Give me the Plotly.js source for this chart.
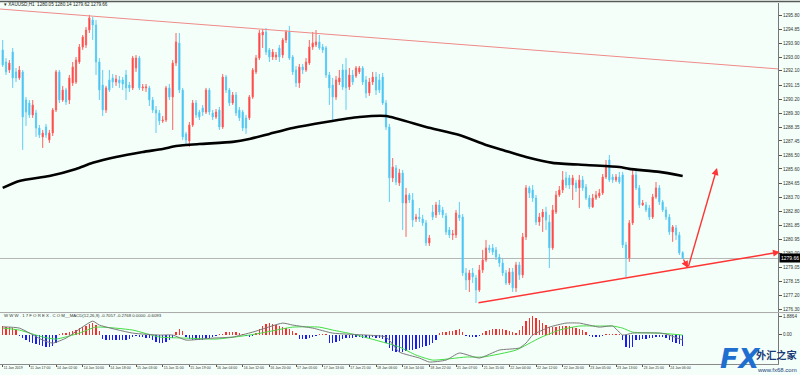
<!DOCTYPE html>
<html><head><meta charset="utf-8">
<script src="https://cdn.plot.ly/plotly-3.0.1.min.js"></script>
<style>html,body{margin:0;padding:0;background:#f3fff8;}#chart{width:800px;height:375px;}</style>
</head><body><div id="chart"></div>
<script>
// XAUUSD H1 candles (price)
const openP=[
1293.49,1292.69,1292.16,1293.35,1292.03,1291.63,1292.03,1290.17,1289.97,1289.18,
1289.31,1288.31,1287.72,1288.38,1287.52,1287.98,1289.51,1292.03,1290.17,1290.83,
1290.17,1291.30,1291.36,1292.69,1293.68,1293.82,1294.81,1295.47,1295.14,1292.69,
1291.16,1289.51,1291.50,1291.63,1291.36,1291.50,1291.50,1291.83,1291.16,1290.97,
1292.29,1292.95,1290.97,1290.97,1290.97,1290.17,1289.51,1289.31,1288.78,1288.84,
1290.97,1290.37,1292.62,1293.95,1290.83,1287.92,1287.45,1288.51,1289.97,1289.37,
1289.64,1289.37,1290.83,1289.31,1289.04,1289.51,1288.38,1291.69,1290.83,1289.97,
1290.50,1289.51,1289.37,1288.98,1288.98,1290.37,1292.03,1292.95,1294.48,1294.68,
1293.49,1293.02,1293.02,1293.62,1293.15,1294.15,1294.68,1293.02,1292.16,1291.30,
1292.36,1292.16,1292.62,1293.68,1293.82,1294.02,1293.68,1293.62,1291.83,1291.16,
1290.37,1291.36,1292.16,1292.16,1291.03,1291.83,1291.76,1292.03,1292.29,1291.50,
1290.63,1291.36,1291.69,1291.50,1291.69,1289.97,1288.38,1285.00,1285.66,1284.67,
1285.33,1283.34,1283.87,1283.54,1282.28,1282.41,1282.28,1282.02,1280.69,1282.74,
1282.55,1283.21,1282.88,1282.48,1281.55,1281.22,1281.22,1282.55,1282.41,1278.70,
1278.24,1278.70,1278.37,1277.57,1278.90,1279.56,1280.36,1280.36,1280.23,1279.76,
1279.36,1278.70,1278.04,1278.77,1277.71,1279.23,1278.57,1281.09,1284.34,1284.20,
1283.67,1282.08,1282.41,1282.74,1282.08,1280.36,1282.74,1283.87,1284.20,1285.00,
1285.00,1284.53,1284.67,1284.34,1284.87,1284.40,1283.67,1283.08,1283.67,1283.81,
1284.00,1285.06,1286.19,1285.06,1284.87,1285.06,1285.20,1280.56,1279.69,1282.02,
1285.20,1284.34,1283.21,1283.21,1283.01,1282.41,1283.74,1284.34,1283.41,1282.88,
1282.41,1281.42,1281.68,1281.22,1280.05];
const highP=[
1294.15,1292.95,1292.82,1293.62,1292.29,1292.42,1292.16,1290.37,1290.17,1290.17,
1289.51,1288.51,1288.18,1288.58,1288.18,1289.64,1292.16,1292.16,1291.10,1290.97,
1291.83,1292.69,1293.02,1293.88,1294.48,1295.01,1295.81,1295.67,1295.47,1292.95,
1292.16,1291.10,1292.16,1291.89,1291.83,1291.76,1291.69,1292.16,1291.36,1293.09,
1293.15,1293.09,1291.23,1291.23,1291.10,1290.37,1289.77,1289.51,1289.11,1291.10,
1291.23,1292.82,1294.61,1294.61,1290.97,1288.05,1288.71,1290.17,1290.17,1289.51,
1289.84,1290.97,1290.97,1289.51,1289.57,1289.71,1291.89,1291.83,1290.97,1290.70,
1290.70,1289.71,1289.51,1289.18,1290.50,1292.29,1293.15,1294.81,1294.88,1294.94,
1293.62,1293.55,1293.35,1293.82,1294.28,1294.81,1295.08,1293.15,1292.42,1292.56,
1292.56,1292.95,1294.15,1294.68,1294.81,1294.48,1293.88,1293.75,1292.03,1291.63,
1291.76,1292.16,1292.56,1292.95,1292.29,1292.16,1292.42,1292.42,1292.42,1291.76,
1291.63,1292.03,1292.03,1291.89,1291.96,1290.17,1288.58,1286.32,1285.86,1285.60,
1285.53,1284.34,1284.00,1284.00,1282.61,1283.01,1282.55,1282.21,1281.22,1283.21,
1283.41,1283.54,1283.08,1282.68,1281.75,1281.55,1282.88,1283.41,1282.61,1279.03,
1278.90,1279.03,1278.57,1279.23,1280.23,1280.89,1280.56,1280.62,1280.42,1279.96,
1279.63,1278.90,1279.03,1279.03,1279.43,1279.43,1281.35,1284.53,1284.47,1284.53,
1283.87,1282.68,1282.94,1283.08,1282.55,1283.21,1284.14,1284.47,1285.46,1285.40,
1285.20,1285.20,1284.87,1285.20,1285.13,1284.60,1283.87,1283.94,1284.14,1284.27,
1285.26,1286.19,1286.52,1285.26,1285.26,1285.40,1285.40,1280.76,1282.21,1285.53,
1285.53,1284.53,1283.54,1283.41,1283.21,1283.94,1284.73,1284.53,1283.54,1283.08,
1282.61,1281.88,1281.88,1281.42,1280.14];
const lowP=[
1292.36,1291.83,1291.96,1290.97,1291.36,1291.50,1286.86,1288.45,1288.98,1288.98,
1287.72,1287.65,1286.99,1287.65,1287.32,1287.78,1289.37,1289.97,1290.04,1289.84,
1289.90,1291.10,1291.23,1292.56,1293.49,1293.62,1294.61,1294.15,1291.83,1290.17,
1289.11,1289.31,1290.70,1290.97,1291.10,1290.97,1290.83,1290.17,1290.70,1290.83,
1292.03,1290.83,1290.77,1290.70,1289.77,1289.31,1287.98,1288.51,1288.65,1288.71,
1290.17,1288.18,1292.42,1290.63,1287.52,1287.19,1287.05,1288.38,1288.98,1288.84,
1289.11,1289.24,1289.18,1288.84,1288.91,1288.18,1288.25,1290.63,1289.77,1289.84,
1289.11,1288.78,1288.11,1287.92,1288.84,1290.24,1291.89,1292.82,1293.62,1293.15,
1292.69,1292.82,1292.82,1292.69,1292.95,1293.95,1292.82,1291.83,1291.03,1290.97,
1291.89,1292.03,1292.49,1293.49,1293.68,1293.49,1293.29,1291.63,1289.84,1288.84,
1290.17,1291.16,1290.83,1289.51,1290.83,1291.16,1291.63,1291.89,1291.16,1290.30,
1290.44,1291.16,1290.50,1290.63,1289.84,1288.18,1283.41,1284.73,1284.53,1284.47,
1281.55,1281.09,1283.34,1281.75,1282.08,1282.08,1281.82,1280.49,1280.49,1282.21,
1282.35,1282.55,1282.35,1281.22,1281.02,1280.89,1281.02,1282.15,1278.50,1277.57,
1277.44,1278.04,1276.71,1277.44,1278.70,1279.43,1280.03,1279.89,1279.56,1279.10,
1278.50,1277.90,1277.90,1277.44,1277.44,1278.24,1278.37,1280.89,1283.67,1283.41,
1281.88,1281.82,1281.42,1281.55,1279.03,1280.23,1282.61,1283.74,1284.00,1284.34,
1284.27,1283.54,1284.07,1283.01,1284.14,1283.54,1282.94,1283.01,1283.54,1283.67,
1283.87,1284.93,1284.73,1284.67,1284.73,1284.60,1280.36,1278.43,1279.43,1281.88,
1284.20,1283.01,1283.14,1282.74,1282.21,1282.28,1283.61,1283.21,1282.74,1282.21,
1281.22,1280.76,1280.89,1279.89,1279.62];
const closeP=[
1292.49,1292.03,1292.62,1291.63,1291.63,1292.16,1289.04,1289.37,1289.18,1289.84,
1288.31,1287.85,1287.98,1287.85,1287.98,1289.51,1292.03,1290.17,1290.83,1290.04,
1291.63,1292.36,1292.82,1293.68,1294.35,1294.81,1295.61,1295.14,1292.69,1290.83,
1289.51,1290.97,1290.83,1291.36,1291.56,1291.30,1291.23,1290.97,1290.97,1292.95,
1292.95,1290.97,1291.03,1291.03,1290.17,1289.51,1289.31,1288.78,1288.84,1290.97,
1290.37,1292.62,1294.02,1290.83,1287.72,1287.52,1288.51,1289.97,1289.18,1289.04,
1289.37,1290.83,1289.37,1289.04,1289.37,1288.38,1291.69,1290.83,1289.97,1290.50,
1289.31,1288.98,1288.31,1288.31,1290.37,1292.16,1292.95,1294.61,1294.68,1293.35,
1293.02,1293.35,1293.15,1293.02,1294.15,1294.68,1292.95,1292.03,1291.30,1292.36,
1292.16,1292.69,1293.68,1293.95,1294.02,1293.62,1293.49,1291.83,1290.97,1290.37,
1291.50,1291.63,1291.03,1290.97,1291.83,1291.36,1292.29,1292.29,1291.36,1290.63,
1291.36,1291.69,1290.83,1290.83,1289.97,1288.38,1285.00,1285.73,1284.73,1285.33,
1283.34,1283.87,1283.54,1282.21,1282.41,1282.28,1282.02,1280.69,1281.02,1282.41,
1283.21,1282.74,1282.55,1281.42,1281.22,1281.29,1282.68,1282.35,1278.70,1278.24,
1278.70,1278.43,1277.57,1278.90,1279.56,1280.36,1280.23,1280.09,1279.76,1279.36,
1278.70,1278.04,1278.77,1277.71,1279.23,1278.57,1281.09,1284.34,1284.00,1283.67,
1282.08,1282.41,1282.74,1282.21,1280.36,1282.88,1283.87,1284.20,1284.87,1284.53,
1284.53,1285.00,1284.34,1284.87,1284.34,1283.67,1283.08,1283.67,1283.87,1284.00,
1285.06,1285.86,1284.87,1284.87,1285.06,1284.73,1280.56,1279.69,1282.02,1285.20,
1284.34,1283.21,1283.34,1282.88,1282.41,1283.74,1284.34,1283.41,1282.88,1282.41,
1281.42,1281.75,1281.22,1280.03,1279.66];

// moving average (black line), sampled points: candle index / price
const maIdx=[0,5,14,22,27,34,42,48,52,59,69,74,80,87,97,107,115,127,137,145,150,157,165,175,185,188,197,204];
const maVal=[1284.34,1284.80,1285.13,1285.60,1286.00,1286.39,1286.72,1286.92,1287.12,1287.25,1287.39,1287.58,1287.92,1288.31,1288.71,1289.04,1289.11,1288.38,1287.85,1287.19,1286.86,1286.39,1286.00,1285.86,1285.73,1285.60,1285.40,1285.13];

// MACD histogram, one per candle
const macdHist=[
0.92,0.81,0.81,0.71,0.51,-0.10,-0.31,-0.51,-0.71,-0.81,
-0.92,-1.02,-1.12,-1.22,-1.22,-1.12,-0.81,0.10,0.20,0.20,
0.31,0.41,0.51,0.71,0.81,0.92,1.12,1.22,1.02,0.41,
-0.41,-0.51,-0.51,-0.51,-0.51,-0.51,-0.51,-0.51,-0.41,-0.20,
-0.10,-0.20,-0.20,-0.31,-0.31,-0.51,-0.71,-0.81,-0.81,-0.71,
-0.51,-0.31,0.31,0.61,0.41,-0.20,-0.41,-0.51,-0.51,-0.51,
-0.51,-0.41,-0.31,-0.20,-0.10,0.03,0.10,0.31,0.31,0.31,
0.31,0.20,0.10,-0.10,-0.20,-0.10,0.20,0.61,0.92,1.12,
1.22,1.12,1.02,0.92,0.81,0.71,0.61,0.41,0.20,-0.41,
-0.41,-0.41,-0.31,-0.20,-0.10,0.03,0.03,0.03,-0.81,-0.81,
-0.71,-0.61,-0.41,-0.31,-0.31,-0.31,-0.20,-0.20,-0.31,-0.31,
-0.31,-0.20,-0.31,-0.31,-0.41,-0.81,-1.32,-1.63,-1.73,-1.73,
-1.73,-1.63,-1.53,-1.53,-1.43,-1.32,-1.22,-1.12,-1.02,-0.81,
-0.51,0.20,0.31,0.31,0.41,0.41,0.51,0.61,0.31,-0.10,
-0.20,-0.20,-0.20,-0.10,0.20,0.41,0.51,0.61,0.61,0.61,
0.61,0.51,0.41,0.31,0.20,0.51,0.92,1.43,1.73,1.8864,
1.73,1.53,1.22,1.02,0.81,0.81,0.81,0.92,0.92,0.92,
0.92,0.81,0.71,0.61,0.51,0.31,-0.10,-0.20,-0.20,-0.20,
-0.10,0.03,0.03,0.03,0.03,0.03,-0.51,-1.22,-1.32,-1.22,
-0.51,-0.51,-0.41,-0.41,-0.31,-0.31,-0.20,-0.20,-0.20,-0.31,
-0.51,-0.71,-0.81,-0.92,-1.12];
// MACD line (grey) and signal (green), sampled points
const macdIdx=[0,5,12,15,19,27,29,39,47,51,55,63,69,75,84,87,93,99,109,115,119,125,128,133,137,143,149,155,157,159,164,169,173,179,183,186,189,197,199,204];
const macdVal=[0.79,0.66,-0.56,-0.87,-0.36,1.37,0.97,0.15,-0.05,-0.05,-0.56,-0.36,-0.25,0.25,1.17,0.97,0.66,0.15,-0.05,-0.25,-1.78,-2.39,-2.80,-2.60,-1.88,-2.39,-1.58,-1.37,-0.87,-0.05,0.76,1.17,1.17,0.76,0.87,-0.05,0.15,0.15,0.05,-0.56];
const signalIdx=[0,5,12,16,23,28,39,47,55,64,74,79,87,95,99,105,119,124,129,139,144,154,161,167,173,179,183,186,189,197,204];
const signalVal=[0.66,0.46,-0.25,-0.46,0.15,0.76,0.46,-0.25,-0.36,-0.46,-0.05,0.25,0.76,0.76,0.46,0.05,-1.27,-2.09,-2.60,-2.29,-2.29,-1.58,-0.36,0.46,0.87,0.87,0.87,0.66,0.25,0.15,-0.05];

// time axis labels, every 8 bars
const timeLabels=["11 Jan 2019","11 Jan 17:00","14 Jan 02:00","14 Jan 10:00","14 Jan 18:00","15 Jan 03:00","15 Jan 11:00","15 Jan 19:00","16 Jan 04:00","16 Jan 12:00","16 Jan 20:00","17 Jan 05:00","17 Jan 13:00","17 Jan 21:00","18 Jan 06:00","18 Jan 14:00","18 Jan 22:00","21 Jan 07:00","21 Jan 15:00","22 Jan 04:00","22 Jan 12:00","22 Jan 20:00","23 Jan 05:00","23 Jan 13:00","23 Jan 21:00","24 Jan 06:00"];
const priceTicks=[1295.80,1294.85,1293.90,1293.00,1292.10,1291.15,1290.20,1289.30,1288.35,1287.45,1286.50,1285.60,1284.65,1283.70,1282.80,1281.85,1280.95,1280.00,1279.05,1278.15,1277.20,1276.30];
const macdTicks=[1.8864,0];
const macdTickText=["1.8864","0.00"];

// drawn trend lines / arrows (candle index, price)
const upperTrendIdx=[-0.8,232.6], upperTrendPrice=[1296.20,1292.23];
const lowerTrendIdx=[142.3,233.2], lowerTrendPrice=[1276.71,1280.09];
const arrowIdx=[204,205.6,214.3], arrowPrice=[1279.69,1279.03,1285.66];

const idx=openP.map((_,i)=>i);
const labelIdx=timeLabels.map((_,k)=>k*8);
const last=idx.length-1;
const F='Liberation Sans, Arial, sans-serif';

const traces=[
 {type:'scatter',mode:'lines',x:upperTrendIdx,y:upperTrendPrice,xaxis:'x',yaxis:'y',line:{color:'#f08a8a',width:1},hoverinfo:'skip',showlegend:false},
 {type:'scatter',mode:'lines',x:maIdx,y:maVal,xaxis:'x',yaxis:'y',line:{color:'#000',width:2.6,shape:'spline',smoothing:0.6},hoverinfo:'skip',showlegend:false},
 {type:'candlestick',x:idx,open:openP,high:highP,low:lowP,close:closeP,xaxis:'x',yaxis:'y',
  increasing:{line:{color:'#ff6262',width:1},fillcolor:'#ff0000'},
  decreasing:{line:{color:'#60cbf5',width:1},fillcolor:'#0cb4f2'},
  whiskerwidth:0,hoverinfo:'skip',showlegend:false},
 {type:'bar',x:idx,y:macdHist,xaxis:'x',yaxis:'y2',width:0.42,
  marker:{color:macdHist.map(v=>v>=0?'#ff2a2a':'#1a1aff'),line:{width:0}},hoverinfo:'skip',showlegend:false},
 {type:'scatter',mode:'lines',x:signalIdx,y:signalVal,xaxis:'x',yaxis:'y2',line:{color:'#44dd44',width:1,shape:'spline',smoothing:0.5},hoverinfo:'skip',showlegend:false},
 {type:'scatter',mode:'lines',x:macdIdx,y:macdVal,xaxis:'x',yaxis:'y2',line:{color:'#7a7a7a',width:1,shape:'spline',smoothing:0.5},hoverinfo:'skip',showlegend:false}
];

const arrowStyle={xref:'x',yref:'y',axref:'x',ayref:'y',showarrow:true,arrowhead:2,arrowsize:1,arrowwidth:1.4,arrowcolor:'#ff3434',text:''};
const annotations=[
 Object.assign({x:lowerTrendIdx[1],y:lowerTrendPrice[1],ax:lowerTrendIdx[0],ay:lowerTrendPrice[0]},arrowStyle),
 Object.assign({x:arrowIdx[1],y:arrowPrice[1],ax:arrowIdx[0],ay:arrowPrice[0]},arrowStyle),
 Object.assign({x:arrowIdx[2],y:arrowPrice[2],ax:arrowIdx[1],ay:arrowPrice[1]},arrowStyle),
 {xref:'paper',yref:'y',x:1,xanchor:'left',xshift:1,y:closeP[last],yanchor:'middle',text:closeP[last].toFixed(2),showarrow:false,
  bgcolor:'#000',font:{family:F,size:5,color:'#fff'},borderpad:1},
 {xref:'paper',yref:'paper',x:0.003,y:0.9955,xanchor:'left',yanchor:'middle',showarrow:false,
  text:'▾ XAUUSD,H1  '+[openP[last],highP[last],lowP[last],closeP[last]].map(v=>v.toFixed(2)).join(' '),font:{family:F,size:4.6,color:'#222'}},
 {xref:'paper',yref:'paper',x:0.002,y:0.133,xanchor:'left',yanchor:'middle',showarrow:false,
  text:'W W W . 1 7 F O R E X . C O M__MACD(12,26,9) -0.7057 -0.2768 0.0000 -0.6093',font:{family:F,size:4.3,color:'#333'}},
 {xref:'paper',yref:'paper',x:0.951,y:0.016,xanchor:'center',yanchor:'middle',showarrow:false,
  text:'<b><i>FX</i></b>',font:{family:'DejaVu Sans, sans-serif',size:27,color:'#1f6fd1'}},
 {xref:'paper',yref:'paper',x:0.969,y:0.027,xanchor:'left',yanchor:'middle',showarrow:false,
  text:'<b>外汇之家</b>',font:{family:'Noto Sans CJK SC',size:10.2,color:'#1b3a78'}},
 {xref:'paper',yref:'paper',x:0.971,y:-0.016,xanchor:'left',yanchor:'middle',showarrow:false,
  text:'www.fx68.com',font:{family:F,size:6,color:'#1b3a78'}}
];

const layout={
 width:800,height:375,margin:{l:0,r:22,t:3,b:11,pad:0},
 paper_bgcolor:'#f3fff8',plot_bgcolor:'#f3fff8',showlegend:false,boxgap:0.5,bargap:0,
 xaxis:{anchor:'y2',range:[-0.81,232.6],showgrid:false,zeroline:false,showline:true,linecolor:'#8a8a8a',linewidth:1,
  tickvals:labelIdx,ticktext:timeLabels,ticks:'outside',ticklen:2,tickcolor:'#555',ticklabelposition:'outside right',tickangle:0,
  ticklabelstandoff:0,tickfont:{family:F,size:3.5,color:'#333'},rangeslider:{visible:false},fixedrange:true,automargin:false},
 yaxis:{domain:[0.144,1],range:[1276.11,1296.60],side:'right',anchor:'x',showgrid:false,zeroline:false,showline:true,
  linecolor:'#777',linewidth:1,tickvals:priceTicks,ticktext:priceTicks.map(v=>v.toFixed(2)),ticks:'outside',ticklen:3,tickcolor:'#555',
  tickfont:{family:F,size:4.6,color:'#333'},automargin:false},
 yaxis2:{domain:[0,0.141],range:[-3.0,2.19],side:'right',anchor:'x',showgrid:false,zeroline:false,showline:true,
  linecolor:'#777',linewidth:1,tickvals:macdTicks,ticktext:macdTickText,ticks:'outside',ticklen:3,tickcolor:'#555',
  tickfont:{family:F,size:4.6,color:'#333'},automargin:false},
 shapes:[
  {type:'line',xref:'paper',yref:'paper',x0:0,x1:1.03,y0:1.004,y1:1.004,line:{color:'#5a5a5a',width:1.5}},
  {type:'line',xref:'paper',yref:'paper',x0:0,x1:1.03,y0:0.1425,y1:0.1425,line:{color:'#a8a8a8',width:1}},
  {type:'line',xref:'paper',yref:'y',x0:0,x1:1,y0:closeP[last],y1:closeP[last],line:{color:'#b5b5b5',width:1},layer:'below'}
 ],
 annotations:annotations
};
Plotly.newPlot('chart',traces,layout,{staticPlot:true,displayModeBar:false});
</script></body></html>
